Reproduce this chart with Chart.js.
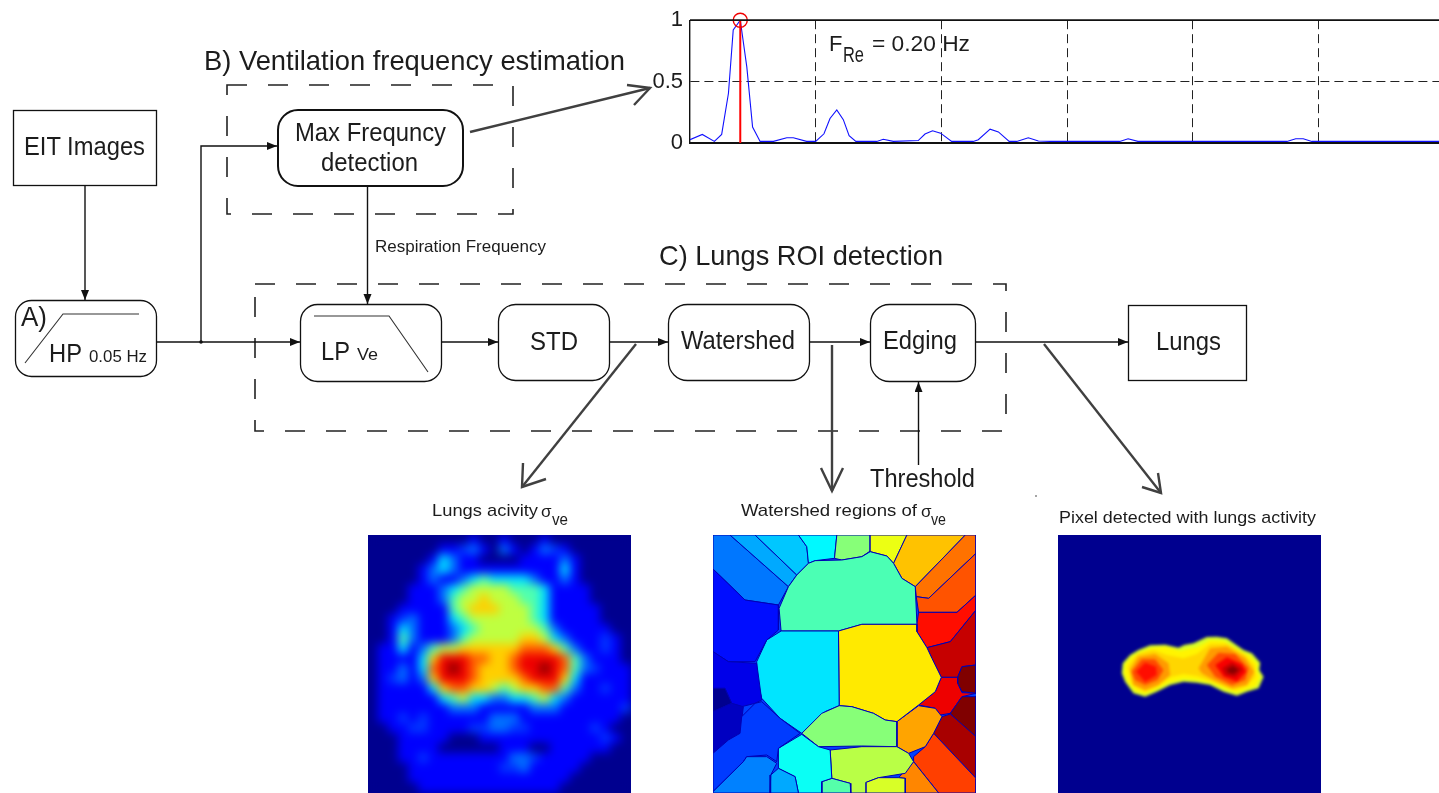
<!DOCTYPE html>
<html>
<head>
<meta charset="utf-8">
<script src="https://cdn.jsdelivr.net/npm/chart.js@4/dist/chart.umd.min.js"></script>
<style>
  html, body { margin: 0; padding: 0; background: #fff; overflow: hidden; }
  #page { position: relative; width: 1439px; height: 793px; overflow: hidden; }
  #page canvas { display: block; }
  .panel { position: absolute; overflow: hidden; }
  #spectrum { position: absolute; left: 640px; top: 0; width: 799px; height: 165px; }
  #activity { left: 368px; top: 535px; width: 263px; height: 258px; background: #00008f; }
  #activity canvas { filter: blur(4.6px); }
  #regions { left: 713px; top: 535px; width: 263px; height: 258px; background: #0040ff; }
  #detected { left: 1058px; top: 535px; width: 263px; height: 258px; background: #00008f; }
  #detected canvas { filter: blur(1.4px); }
  svg { position: absolute; left: 0; top: 0; pointer-events: none; }
  text { font-family: "Liberation Sans", Arial, sans-serif; fill: #1c1c1c; }
</style>
</head>
<body>
<div id="page">
  <div id="spectrum"><canvas id="spectrumChart"></canvas></div>
  <div class="panel" id="activity"><canvas id="activityChart"></canvas></div>
  <div class="panel" id="regions"><canvas id="regionsChart"></canvas></div>
  <div class="panel" id="detected"><canvas id="detectedChart"></canvas></div>

  <svg width="1439" height="793" viewBox="0 0 1439 793">
    <defs>
      <marker id="head" markerUnits="userSpaceOnUse" markerWidth="11" markerHeight="9" refX="10" refY="4" orient="auto">
        <path d="M0,0 L10,4 L0,8 z" fill="#111"/>
      </marker>
    </defs>

    <!-- dashed groups -->
    <rect x="227" y="85" width="286" height="129" fill="none" stroke="#222" stroke-width="1.6" stroke-dasharray="20 21"/>
    <rect x="255" y="284" width="751" height="147" fill="none" stroke="#222" stroke-width="1.6" stroke-dasharray="20 21"/>

    <!-- boxes -->
    <rect x="13.5" y="110.5" width="143" height="75" fill="#fff" stroke="#111" stroke-width="1.3"/>
    <rect x="15.5" y="300.5" width="141" height="76" rx="16" fill="#fff" stroke="#111" stroke-width="1.3"/>
    <rect x="278" y="110" width="185" height="76" rx="20" fill="#fff" stroke="#111" stroke-width="2"/>
    <rect x="300.5" y="304.5" width="141" height="77" rx="17" fill="#fff" stroke="#111" stroke-width="1.3"/>
    <rect x="498.5" y="304.5" width="111" height="76" rx="17" fill="#fff" stroke="#111" stroke-width="1.3"/>
    <rect x="668.5" y="304.5" width="141" height="76" rx="19" fill="#fff" stroke="#111" stroke-width="1.3"/>
    <rect x="870.5" y="304.5" width="105" height="77" rx="19" fill="#fff" stroke="#111" stroke-width="1.3"/>
    <rect x="1128.5" y="305.5" width="118" height="75" fill="#fff" stroke="#111" stroke-width="1.3"/>

    <!-- filter sketches -->
    <polyline points="25,363 63,314 139,314" fill="none" stroke="#333" stroke-width="1.1"/>
    <polyline points="314,316 389,316 428,372" fill="none" stroke="#333" stroke-width="1.1"/>

    <!-- thin arrows -->
    <g fill="none" stroke="#111" stroke-width="1.4">
      <line x1="85" y1="185" x2="85" y2="300" marker-end="url(#head)"/>
      <line x1="156" y1="342" x2="300" y2="342" marker-end="url(#head)"/>
      <polyline points="201,342 201,146 277,146" marker-end="url(#head)"/>
      <line x1="367.5" y1="186" x2="367.5" y2="304" marker-end="url(#head)"/>
      <line x1="441" y1="342" x2="498" y2="342" marker-end="url(#head)"/>
      <line x1="609" y1="342" x2="668" y2="342" marker-end="url(#head)"/>
      <line x1="809" y1="342" x2="870" y2="342" marker-end="url(#head)"/>
      <line x1="975" y1="342" x2="1128" y2="342" marker-end="url(#head)"/>
      <line x1="918.5" y1="465" x2="918.5" y2="382" marker-end="url(#head)"/>
    </g>
    <circle cx="201" cy="342" r="1.8" fill="#111"/>
    <circle cx="1036" cy="496" r="0.8" fill="#333"/>

    <!-- thick open arrows -->
    <g fill="none" stroke="#404040" stroke-width="2.4">
      <polyline points="470,132 650,88"/>
      <polyline points="627,85 650,88 634,105"/>
      <polyline points="636,344 522,487"/>
      <polyline points="523,463 522,487 546,479"/>
      <polyline points="832,345 832,491"/>
      <polyline points="821,468 832,491 843,468"/>
      <polyline points="1044,344 1161,493"/>
      <polyline points="1142,487 1161,493 1158,473"/>
    </g>

    <!-- labels -->
    <text x="204" y="70" font-size="28" textLength="421" lengthAdjust="spacingAndGlyphs">B) Ventilation frequency estimation</text>
    <text x="659" y="265" font-size="28" textLength="284" lengthAdjust="spacingAndGlyphs">C) Lungs ROI detection</text>
    <text x="24" y="155" font-size="26" textLength="121" lengthAdjust="spacingAndGlyphs">EIT Images</text>
    <text x="295" y="141" font-size="26" textLength="151" lengthAdjust="spacingAndGlyphs">Max Frequncy</text>
    <text x="321" y="171" font-size="26" textLength="97" lengthAdjust="spacingAndGlyphs">detection</text>
    <text x="375" y="252" font-size="16.5" textLength="171" lengthAdjust="spacingAndGlyphs">Respiration Frequency</text>
    <text x="21" y="326" font-size="28" textLength="26" lengthAdjust="spacingAndGlyphs">A)</text>
    <text x="49" y="362" font-size="26" textLength="33" lengthAdjust="spacingAndGlyphs">HP</text>
    <text x="89" y="362" font-size="17" textLength="58" lengthAdjust="spacingAndGlyphs">0.05 Hz</text>
    <text x="321" y="360" font-size="26" textLength="29" lengthAdjust="spacingAndGlyphs">LP</text>
    <text x="357" y="360" font-size="17" textLength="21" lengthAdjust="spacingAndGlyphs">Ve</text>
    <text x="530" y="350" font-size="26" textLength="48" lengthAdjust="spacingAndGlyphs">STD</text>
    <text x="681" y="349" font-size="26" textLength="114" lengthAdjust="spacingAndGlyphs">Watershed</text>
    <text x="883" y="349" font-size="26" textLength="74" lengthAdjust="spacingAndGlyphs">Edging</text>
    <text x="1156" y="350" font-size="26" textLength="65" lengthAdjust="spacingAndGlyphs">Lungs</text>
    <text x="870" y="487" font-size="26" textLength="105" lengthAdjust="spacingAndGlyphs">Threshold</text>

    <text x="432" y="516" font-size="17" textLength="106" lengthAdjust="spacingAndGlyphs">Lungs acivity</text>
    <text x="541" y="517" font-size="17">σ</text>
    <text x="552" y="525" font-size="16" textLength="16" lengthAdjust="spacingAndGlyphs">ve</text>
    <text x="741" y="516" font-size="17" textLength="176" lengthAdjust="spacingAndGlyphs">Watershed regions of</text>
    <text x="921" y="517" font-size="17">σ</text>
    <text x="931" y="525" font-size="16" textLength="15" lengthAdjust="spacingAndGlyphs">ve</text>
    <text x="1059" y="523" font-size="17" textLength="257" lengthAdjust="spacingAndGlyphs">Pixel detected with lungs activity</text>

    <text x="829" y="51" font-size="22">F</text>
    <text x="843" y="62" font-size="22" textLength="21" lengthAdjust="spacingAndGlyphs">Re</text>
    <text x="872" y="51" font-size="22" textLength="98" lengthAdjust="spacingAndGlyphs">= 0.20 Hz</text>
  </svg>
</div>

<script>
// spectrum
const specFreq = [0, .049, .097, .126, .153, .172, .2, .226, .249, .279, .332, .385, .411, .464, .5, .533, .557, .584, .61, .633, .66, .743, .769, .809, .908, .935, .965, .997, 1.041, 1.127, 1.147, 1.194, 1.227, 1.27, 1.3, 1.346, 1.386, 1.432, 1.71, 1.743, 1.782, 2.375, 2.41, 2.44, 2.474, 2.98];
const specMag = [.027, .07, .013, .07, .405, .92, 1, .62, .13, .013, .013, .043, .043, .013, .013, .075, .2, .27, .19, .06, .013, .013, .03, .013, .02, .073, .1, .08, .013, .013, .027, .113, .09, .013, .013, .043, .016, .013, .013, .035, .013, .013, .035, .035, .013, .013];
const peakFreq = 0.2;
const yTicks = [0, 0.5, 1];

// lung activity image, 26 x 26 levels from 0 (background) to 9 (peak), a = 1.5
const activityRows = [
  "00000000001001000100000000",
  "000000011a21021012a1000000",
  "00000013211000011112100000",
  "00000123211111111113100000",
  "00000121123433332112100000",
  "00001112345555444311110000",
  "00001112455655544311110000",
  "00011111456665554311111000",
  "001a2111345555554311111000",
  "00132111234555555421111100",
  "00142111245555566532111a10",
  "01131245566666677764211a10",
  "01111368887766788887421110",
  "0112137898766678898742a111",
  "01a21268887666678886311111",
  "01111136776654566774211a11",
  "01111113453322334532111111",
  "0111111122211111222111111a",
  "011a1a11111122211111111110",
  "0011aa1111aa22aa111111a100",
  "00011111000111111111111a10",
  "00011110000001110011111100",
  "00011a1111111122a111110000",
  "0000111111111aa21111100000",
  "00001111111111111111000000",
  "00000111111111111110000000"
];

// watershed regions: colour level and outline of each region
const regionLevels = [
  .23, .28, .31, .36, .5, .6, .68, .76, .79, .86, .93, 1, .89, 1, .96, .81, .74, .71,
  .44, .64, .34, .5, .55, .58, .45, .375, .28,
  .125, .09, 0, .05, .17, .24
];
const regionShapes = [
  [[24,120],[75,120],[250,275],[220,330],[120,315],[24,222]],
  [[75,120],[150,120],[275,240],[250,275]],
  [[150,120],[280,120],[305,155],[310,205],[275,240]],
  [[280,120],[395,120],[388,190],[330,197],[310,205],[305,155]],
  [[395,120],[495,120],[495,168],[470,185],[410,195],[388,190]],
  [[495,120],[605,120],[565,205],[545,183],[495,170]],
  [[605,120],[780,120],[630,275],[590,250],[565,205]],
  [[780,120],[812,120],[812,175],[670,310],[633,305],[630,275]],
  [[812,175],[812,300],[755,352],[640,352],[633,305],[670,310]],
  [[812,300],[812,345],[735,440],[665,458],[635,410],[635,385],[640,352],[755,352]],
  [[812,345],[812,510],[770,515],[757,547],[708,547],[680,490],[665,458],[735,440]],
  [[770,515],[812,510],[812,595],[770,590],[757,565],[757,547]],
  [[708,547],[757,547],[757,565],[770,593],[812,595],[770,605],[735,655],[705,660],[690,640],[640,630],[690,590]],
  [[770,605],[812,605],[812,750],[735,655]],
  [[710,665],[735,657],[812,725],[812,850],[685,715]],
  [[685,715],[812,850],[812,894],[700,894],[625,800],[625,785],[660,755]],
  [[580,848],[625,800],[700,894],[600,894],[600,850]],
  [[575,680],[640,632],[690,640],[710,665],[685,715],[660,755],[610,775],[575,755]],
  [[330,197],[410,195],[470,185],[495,170],[545,183],[565,205],[590,250],[630,275],[635,388],[470,388],[400,408],[228,408],[222,340],[250,275],[275,240],[310,205]],
  [[400,408],[470,388],[635,388],[635,410],[665,458],[680,490],[708,547],[690,590],[640,630],[575,680],[540,675],[505,655],[440,635],[402,632]],
  [[228,408],[400,408],[402,632],[360,650],[290,715],[225,670],[170,610],[155,550],[155,500],[185,435]],
  [[402,632],[440,635],[505,655],[540,675],[575,680],[575,755],[470,753],[340,755],[290,715],[350,655]],
  [[375,765],[470,755],[575,755],[610,775],[625,800],[600,835],[520,848],[483,862],[483,894],[437,894],[435,865],[380,850]],
  [[483,862],[520,848],[580,848],[600,850],[600,894],[483,894]],
  [[350,860],[380,850],[435,865],[437,894],[350,894]],
  [[290,718],[340,755],[375,765],[380,850],[350,860],[350,894],[280,894],[270,845],[220,820],[220,760]],
  [[220,820],[270,845],[280,894],[195,894],[197,840]],
  [[24,222],[120,315],[220,330],[220,405],[185,435],[150,500],[70,500],[24,470]],
  [[24,470],[70,500],[155,505],[170,615],[150,625],[110,635],[80,625],[60,580],[24,580]],
  [[24,580],[60,580],[80,625],[24,650]],
  [[24,650],[80,625],[115,635],[105,715],[70,735],[24,775]],
  [[150,625],[170,620],[225,670],[285,715],[220,760],[215,800],[185,780],[125,785],[115,800],[24,890],[24,775],[70,735],[105,715],[110,665]],
  [[24,890],[115,800],[125,785],[185,785],[215,805],[197,840],[195,894],[24,894]]
];

// detected pixels: nested contours from the outline inwards
const contourLevels = [.58, .63, .66, .72, .72, .8, .8, .86, .88, .93, .99];
const contourShapes = [
  [[218,490],[240,465],[265,450],[300,436],[345,434],[385,443],[402,435],[430,430],[470,411],[500,410],[530,415],[555,433],[580,450],[605,460],[630,488],[627,510],[640,530],[625,565],[590,575],[560,587],[520,575],[480,555],[440,548],[400,545],[360,555],[320,575],[285,590],[250,580],[225,545],[215,520]],
  [[226,490],[246,470],[272,455],[305,443],[345,440],[390,452],[440,442],[480,420],[520,422],[545,438],[575,456],[600,468],[622,492],[620,512],[630,530],[618,558],[590,568],[560,578],[525,568],[480,548],[440,540],[400,537],[360,547],[320,568],[285,582],[255,574],[232,545],[222,520]],
  [[234,500],[262,462],[310,450],[350,465],[400,475],[440,462],[480,432],[530,432],[582,462],[612,498],[616,530],[590,558],[550,570],[500,550],[440,528],[400,522],[360,532],[320,560],[285,575],[246,552]],
  [[240,510],[265,470],[315,462],[355,490],[360,525],[325,555],[285,570],[250,555]],
  [[445,505],[480,445],[530,440],[585,475],[612,515],[590,555],[545,565],[490,540],[455,520]],
  [[245,515],[275,478],[315,478],[340,510],[322,540],[285,555],[255,540]],
  [[470,495],[505,458],[555,462],[595,505],[585,540],[545,555],[495,530]],
  [[258,515],[285,488],[318,500],[320,525],[285,545]],
  [[495,495],[530,472],[575,492],[588,515],[560,545],[520,530]],
  [[515,505],[545,487],[578,508],[555,532],[525,525]],
  [[530,508],[548,498],[565,510],[550,522],[535,518]]
];

function jet(v) {
  const c = x => Math.round(255 * Math.max(0, Math.min(1, x)));
  const t = Math.min(1, v * 0.985 + 0.015);
  return `rgb(${c(Math.min(4 * t - 1.5, -4 * t + 4.5))},${c(Math.min(4 * t - 0.5, -4 * t + 3.5))},${c(Math.min(4 * t + 0.5, -4 * t + 2.5))})`;
}

function shapeDataset(pts, level, border) {
  return {
    data: pts.concat([pts[0]]).map(p => ({ x: p[0], y: p[1] })),
    showLine: true,
    fill: 'shape',
    tension: 0,
    pointRadius: 0,
    backgroundColor: jet(level),
    borderColor: border || jet(level),
    borderWidth: border ? 1 : 0
  };
}

const baseOptions = {
  responsive: true,
  maintainAspectRatio: false,
  animation: false,
  events: [],
  layout: { padding: 0, autoPadding: false },
  plugins: { legend: { display: false }, tooltip: { enabled: false } }
};

function imageScales(xMin, xMax, yMin, yMax) {
  return {
    x: { type: 'linear', display: false, min: xMin, max: xMax },
    y: { type: 'linear', display: false, min: yMin, max: yMax, reverse: true }
  };
}

// top line of the axes box
const topFrame = {
  id: 'topFrame',
  afterDatasetsDraw(chart) {
    const { ctx, chartArea } = chart;
    ctx.save();
    ctx.strokeStyle = '#111';
    ctx.lineWidth = 1.8;
    ctx.beginPath();
    ctx.moveTo(chartArea.left, chartArea.top);
    ctx.lineTo(chartArea.right, chartArea.top);
    ctx.stroke();
    ctx.restore();
  }
};

new Chart(document.getElementById('spectrumChart'), {
  type: 'scatter',
  plugins: [topFrame],
  data: {
    datasets: [
      {
        data: [{ x: peakFreq, y: 0 }, { x: peakFreq, y: 1 }],
        showLine: true,
        clip: false,
        borderColor: '#ff0000',
        borderWidth: 2,
        pointRadius: [0, 7],
        pointBorderColor: '#f00000',
        pointBackgroundColor: 'transparent',
        pointBorderWidth: 1.4
      },
      {
        data: specFreq.map((f, i) => ({ x: f, y: specMag[i] })),
        showLine: true,
        borderColor: '#1010ff',
        borderWidth: 1.1,
        pointRadius: 0
      }
    ]
  },
  options: {
    ...baseOptions,
    layout: { padding: { top: 19.5, bottom: 22, right: 0, left: 0 }, autoPadding: false },
    scales: {
      x: {
        type: 'linear',
        min: 0,
        max: 2.98,
        ticks: { display: false, stepSize: 0.5 },
        afterFit(scale) { scale.height = 0; },
        grid: {
          color: c => (c.tick.value === 0 ? 'transparent' : '#222'),
          lineWidth: 1,
          drawTicks: false
        },
        border: { color: '#111', width: 2, dash: [9, 5] }
      },
      y: {
        min: 0,
        max: 1,
        afterBuildTicks(scale) { scale.ticks = yTicks.map(v => ({ value: v })); },
        afterFit(scale) { scale.width = 50; },
        ticks: {
          color: '#1c1c1c',
          padding: 7,
          font: { family: '"Liberation Sans", Arial, sans-serif', size: 22 },
          callback: v => String(v)
        },
        grid: {
          color: c => (c.tick.value === 0.5 ? '#222' : 'transparent'),
          lineWidth: 1,
          drawTicks: false
        },
        border: { color: '#111', width: 1.4, dash: [9, 5] }
      }
    }
  }
});

const activityCells = [];
activityRows.forEach((row, r) => {
  [...row].forEach((d, c) => activityCells.push({ x: c, y: r, v: d === 'a' ? 1.5 : Number(d) }));
});

new Chart(document.getElementById('activityChart'), {
  type: 'scatter',
  data: {
    datasets: [{
      data: activityCells,
      pointStyle: 'rect',
      pointRadius: 7.8,
      borderWidth: 0,
      pointBorderWidth: 0,
      backgroundColor: c => jet(c.raw.v / 9)
    }]
  },
  options: { ...baseOptions, scales: imageScales(-0.5, 25.5, -0.5, 25.5) }
});

new Chart(document.getElementById('regionsChart'), {
  type: 'scatter',
  data: {
    datasets: regionShapes.map((pts, i) => ({
      ...shapeDataset(pts, regionLevels[i], '#0000b4'),
      order: regionShapes.length - i
    }))
  },
  options: { ...baseOptions, scales: imageScales(24, 812, 120, 894) }
});

new Chart(document.getElementById('detectedChart'), {
  type: 'scatter',
  data: {
    datasets: contourShapes.map((pts, i) => ({
      ...shapeDataset(pts, contourLevels[i]),
      order: contourShapes.length - i
    }))
  },
  options: { ...baseOptions, scales: imageScales(24, 812, 105, 879) }
});
</script>
</body>
</html>
